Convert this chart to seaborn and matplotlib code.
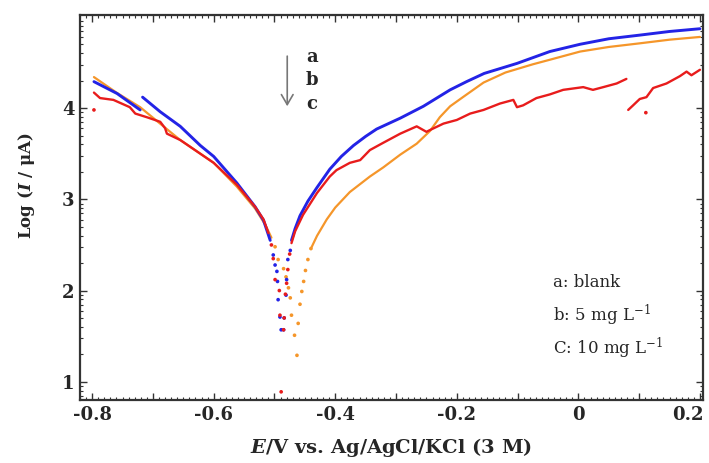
import numpy as np
import matplotlib
matplotlib.use('Agg')
import matplotlib.pyplot as plt
import matplotlib.transforms as mtransforms
import seaborn as sns
from matplotlib.ticker import MultipleLocator, FixedLocator, FuncFormatter

# curve a (blue)
a_cath1_E = [-0.797, -0.759, -0.721]
a_cath1_L = [4.29, 4.16, 3.98]
a_cath2_E = [-0.717, -0.688, -0.655, -0.622, -0.600, -0.562, -0.532, -0.518, -0.507]
a_cath2_L = [4.12, 3.96, 3.80, 3.59, 3.47, 3.18, 2.92, 2.77, 2.55]
a_dots_E = [-0.502, -0.499, -0.496, -0.495, -0.494, -0.491, -0.489,
            -0.485, -0.484, -0.481, -0.480, -0.478, -0.474]
a_dots_L = [2.39, 2.28, 2.21, 2.10, 1.90, 1.71, 1.57,
            1.57, 1.70, 1.95, 2.12, 2.34, 2.44]
a_anod_E = [-0.472, -0.466, -0.458, -0.445, -0.430, -0.409, -0.390, -0.370, -0.350,
            -0.332, -0.293, -0.255, -0.211, -0.184, -0.155, -0.101, -0.047, 0.003,
            0.050, 0.101, 0.150, 0.200]
a_anod_L = [2.55, 2.68, 2.82, 2.98, 3.13, 3.33, 3.47, 3.59, 3.69,
            3.77, 3.89, 4.02, 4.20, 4.29, 4.38, 4.49, 4.62, 4.70,
            4.76, 4.80, 4.84, 4.87]

# curve b (orange)
b_cath_E = [-0.797, -0.760, -0.721, -0.690, -0.655, -0.600, -0.562, -0.532, -0.515, -0.505]
b_cath_L = [4.34, 4.17, 4.01, 3.84, 3.65, 3.40, 3.14, 2.90, 2.72, 2.58]
b_dots_E = [-0.499, -0.494, -0.485, -0.481, -0.477, -0.474, -0.472, -0.467, -0.463,
            -0.461, -0.458, -0.455, -0.452, -0.449, -0.445, -0.440]
b_dots_L = [2.48, 2.34, 2.24, 2.15, 2.03, 1.92, 1.73, 1.51, 1.29,
            1.64, 1.85, 1.99, 2.10, 2.22, 2.34, 2.46]
b_anod_E = [-0.440, -0.430, -0.414, -0.400, -0.376, -0.343, -0.321, -0.293, -0.266,
            -0.244, -0.228, -0.211, -0.190, -0.156, -0.120, -0.075, -0.047, 0.003,
            0.050, 0.101, 0.150, 0.200]
b_anod_L = [2.46, 2.60, 2.78, 2.91, 3.08, 3.25, 3.35, 3.49, 3.61,
            3.75, 3.90, 4.02, 4.12, 4.28, 4.39, 4.48, 4.53, 4.62,
            4.67, 4.71, 4.75, 4.78]

# curve c (red)
c_cath_E = [-0.797, -0.787, -0.765, -0.738, -0.729, -0.710, -0.688, -0.680, -0.677,
            -0.655, -0.600, -0.562, -0.532, -0.518, -0.510]
c_cath_L = [4.17, 4.11, 4.09, 4.01, 3.94, 3.90, 3.85, 3.78, 3.72,
            3.65, 3.40, 3.16, 2.92, 2.78, 2.63]
c_dots_E = [-0.797, -0.505, -0.502, -0.499, -0.492, -0.491, -0.489,
            -0.485, -0.484, -0.482, -0.480, -0.478, -0.475, 0.111]
c_dots_L = [3.98, 2.50, 2.35, 2.12, 2.00, 1.73, 0.89,
            1.57, 1.70, 1.96, 2.08, 2.23, 2.40, 3.95]
c_anod1_E = [-0.472, -0.466, -0.453, -0.430, -0.409, -0.398, -0.376, -0.359, -0.343,
             -0.321, -0.293, -0.266, -0.250, -0.244, -0.222, -0.200, -0.178, -0.156,
             -0.129, -0.107, -0.101, -0.091, -0.069, -0.047, -0.025, 0.008, 0.024,
             0.041, 0.063, 0.079]
c_anod1_L = [2.52, 2.65, 2.83, 3.07, 3.25, 3.32, 3.40, 3.43, 3.54,
             3.62, 3.72, 3.80, 3.74, 3.76, 3.83, 3.87, 3.94, 3.98,
             4.05, 4.09, 4.01, 4.03, 4.11, 4.15, 4.20, 4.23, 4.20,
             4.23, 4.27, 4.32]
c_anod2_E = [0.082, 0.090, 0.101, 0.112, 0.123, 0.145, 0.167, 0.178, 0.186, 0.200]
c_anod2_L = [3.98, 4.03, 4.10, 4.12, 4.22, 4.27, 4.35, 4.40, 4.36, 4.42]

legend_lines = ['a: blank', r'b: 5 mg L$^{-1}$', r'C: 10 mg L$^{-1}$']
arrow_labels = ['a', 'b', 'c']

BLUE = '#2323e6'
ORANGE = '#f5962a'
RED = '#e81c1c'

sns.set_theme(style='ticks')
plt.rcParams['font.family'] = ['DejaVu Serif']
plt.rcParams['mathtext.fontset'] = 'custom'
plt.rcParams['mathtext.rm'] = 'DejaVu Serif'
plt.rcParams['mathtext.it'] = 'DejaVu Serif:italic:bold'
plt.rcParams['axes.unicode_minus'] = False

fig = plt.figure(figsize=(7.09, 4.63), dpi=100)
ax = fig.add_axes([0.1128, 0.136, 0.8787, 0.8315])


def line(E, L, color, lw):
    sns.lineplot(x=E, y=L, sort=False, estimator=None, color=color, lw=lw, ax=ax, legend=False)


def dots(E, L, color):
    sns.scatterplot(x=E, y=L, color=color, s=7, edgecolor='none', ax=ax, legend=False)


line(b_cath_E, b_cath_L, ORANGE, 1.6)
line(b_anod_E, b_anod_L, ORANGE, 1.6)
dots(b_dots_E, b_dots_L, ORANGE)

line(a_cath1_E, a_cath1_L, BLUE, 2.1)
line(a_cath2_E, a_cath2_L, BLUE, 2.1)
line(a_anod_E, a_anod_L, BLUE, 2.1)
dots(a_dots_E, a_dots_L, BLUE)

line(c_cath_E, c_cath_L, RED, 1.7)
line(c_anod1_E, c_anod1_L, RED, 1.7)
line(c_anod2_E, c_anod2_L, RED, 1.7)
dots(c_dots_E, c_dots_L, RED)

ax.set_xlim(-0.82, 0.205)
ax.set_ylim(0.8, 5.02)

ax.xaxis.set_major_locator(MultipleLocator(0.1))
ax.xaxis.set_minor_locator(MultipleLocator(0.01))
ax.xaxis.set_major_formatter(FuncFormatter(
    lambda v, p: ('0' if abs(v) < 1e-9 else f'{v:.1f}') if round(v * 10) % 2 == 0 else ''))
ax.yaxis.set_major_locator(FixedLocator([1, 2, 3, 4]))
ax.yaxis.set_minor_locator(FixedLocator(
    [n + np.log10(k) for n in range(0, 5) for k in range(2, 10)]))

ax.tick_params(which='both', direction='in', top=True, right=True, color='#333333')
ax.tick_params(which='major', length=5, width=1.0, labelsize=13, pad=4)
ax.tick_params(which='minor', length=2.5, width=0.8)
for s in ax.spines.values():
    s.set_linewidth(1.6)
    s.set_color('#333333')

ax.set_xlabel(r'$E$/V vs. Ag/AgCl/KCl (3 M)', fontsize=14, fontweight='bold', labelpad=9)
ax.set_ylabel(r'Log ($I$ / μA)', fontsize=12, fontweight='bold')
ax.yaxis.set_label_coords(-0.069, 0.558)

ax.annotate('', xy=(-0.479, 3.99), xytext=(-0.479, 4.6),
            arrowprops=dict(arrowstyle='->,head_width=0.35,head_length=0.6', color='#777777', lw=1.2))
for t, y in zip(arrow_labels, [4.56, 4.31, 4.05]):
    ax.text(-0.438, y, t, fontsize=13, fontweight='bold', ha='center', va='center')

for t, y in zip(legend_lines, [2.09, 1.73, 1.37]):
    ax.text(-0.042, y, t, fontsize=12, ha='left', va='center')

fig.canvas.draw()
for lab in ax.get_xticklabels() + ax.get_yticklabels():
    lab.set_fontweight('bold')
    if lab.get_text() == '0.2':
        lab.set_transform(lab.get_transform() +
                          mtransforms.ScaledTranslation(-9 / 72, 0, fig.dpi_scale_trans))

fig.savefig('out.png', dpi=100)
